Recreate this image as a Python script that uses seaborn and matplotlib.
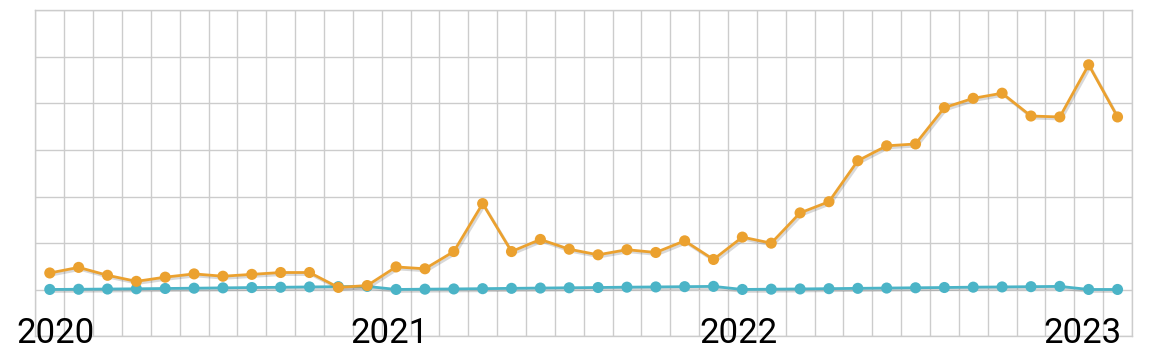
import numpy as np
import pandas as pd
import matplotlib
matplotlib.use("Agg")
import matplotlib.pyplot as plt
import matplotlib.patheffects as pe
import matplotlib.transforms as mtransforms
import seaborn as sns

months = pd.date_range("2020-01-01", "2023-02-01", freq="MS").strftime("%Y-%m").tolist()

orange_vals = [3.6, 4.8, 3.1, 1.8, 2.7, 3.4, 2.9, 3.3, 3.7, 3.7, 0.5, 0.9,
               4.9, 4.5, 8.2, 18.5, 8.2, 10.8, 8.7, 7.5, 8.6, 8.0, 10.5, 6.5,
               11.3, 10.0, 16.5, 18.9, 27.7, 30.9, 31.3, 39.1, 41.1, 42.2, 37.3, 37.1,
               48.3, 37.1]
cyan_vals = [0.06, 0.1, 0.15, 0.2, 0.27, 0.33, 0.4, 0.47, 0.53, 0.6, 0.66, 0.72,
             0.06, 0.12, 0.17, 0.23, 0.3, 0.36, 0.42, 0.48, 0.55, 0.6, 0.66, 0.72,
             0.06, 0.12, 0.17, 0.23, 0.3, 0.36, 0.42, 0.48, 0.55, 0.6, 0.66, 0.72,
             0.06, 0.06]
year_labels = ["2020", "2021", "2022", "2023"]
year_positions = [0, 12, 24, 36]
label_shift_px = [5.5, -6.5, -3.5, -6.0]

series_names = ["cyan", "orange"]
palette = {"cyan": "#4BB4C7", "orange": "#EBA12F"}

n = len(months)
df = pd.DataFrame({
    "idx": list(range(n)) * 2,
    "value": cyan_vals + orange_vals,
    "series": ["cyan"] * n + ["orange"] * n,
})

sns.set_theme(style="white")
plt.rcParams["font.family"] = ["Roboto", "DejaVu Sans"]

fig = plt.figure(figsize=(11.63, 3.6), dpi=100)
ax = fig.add_axes([0.0304, 0.0658, 0.9429, 0.9056])

sns.lineplot(data=df, x="idx", y="value", hue="series", hue_order=series_names,
             palette=palette, marker="o", markersize=8, markeredgewidth=0,
             linewidth=2.0, ax=ax, legend=False)

for line in ax.get_lines():
    line.set_path_effects([pe.SimpleLineShadow(offset=(1.2, -1.5), shadow_color="#666666", alpha=0.25),
                           pe.Normal()])

ax.set_xlim(-0.5, n - 0.5)
ax.set_ylim(-10, 60)
ax.set_xticks(np.arange(-0.5, n, 1.0), minor=True)
ax.set_xticks([])
ax.set_yticks(np.arange(-10, 61, 10))
ax.grid(which="minor", axis="x", color="#cccccc", linewidth=1)
ax.grid(which="major", axis="y", color="#cccccc", linewidth=1)
ax.tick_params(axis="x", which="both", length=0, labelbottom=False)
ax.tick_params(axis="y", length=0, labelleft=False)
ax.set_xlabel("")
ax.set_ylabel("")
for s in ax.spines.values():
    s.set_color("#cccccc")
    s.set_linewidth(1)

blend = mtransforms.blended_transform_factory(ax.transData, ax.transAxes)
for pos, lab, dx in zip(year_positions, year_labels, label_shift_px):
    tr = blend + mtransforms.ScaledTranslation(dx / 100.0, 0, fig.dpi_scale_trans)
    ax.text(pos, -0.0196, lab, transform=tr, ha="center", va="baseline",
            fontsize=25, color="black", clip_on=False)

fig.savefig("out.png", dpi=100)
